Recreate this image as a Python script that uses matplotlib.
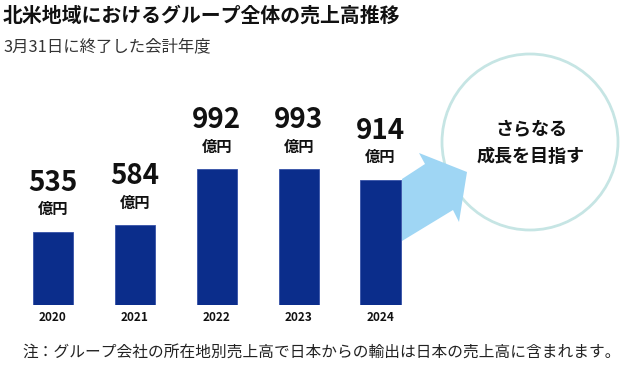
import matplotlib
matplotlib.use("Agg")
import matplotlib.pyplot as plt
from matplotlib.patches import Polygon, Circle

plt.rcParams['font.family'] = ['Noto Sans CJK JP', 'DejaVu Sans']

years = ["2020", "2021", "2022", "2023", "2024"]
sales = [535, 584, 992, 993, 914]
unit_label = "億円"
title = "北米地域におけるグループ全体の売上高推移"
subtitle = "3月31日に終了した会計年度"
note = "注：グループ会社の所在地別売上高で日本からの輸出は日本の売上高に含まれます。"
circle_text = "さらなる\n成長を目指す"

W, H = 625, 366
fig = plt.figure(figsize=(W / 100, H / 100), dpi=100)

# overlay axes in pixel coordinates for decorations
ov = fig.add_axes([0, 0, 1, 1])
ov.set_xlim(0, W)
ov.set_ylim(H, 0)
ov.axis('off')

# bars axes
def px(x): return x / W
def py(y): return 1 - y / H
left, right = 12, 421.5
top, bottom = 60, 305
ax = fig.add_axes([px(left), py(bottom), px(right) - px(left), py(top) - py(bottom)])
ax.set_xlim(-0.5, len(years) - 0.5)
ymax = 992 * (bottom - top) / (305 - 169)
ax.set_ylim(0, ymax)
ax.axis('off')
ax.patch.set_alpha(0)

bar_color = '#0b2d8b'
x = list(range(len(years)))
ax.bar(x, sales, width=0.49, color=bar_color, edgecolor='#3652a8', linewidth=0.6, zorder=3)
for xi, v, yr in zip(x, sales, years):
    ax.annotate(f"{v}", (xi, v), xytext=(0, 35), textcoords='offset points',
                ha='center', va='center', fontsize=20, fontweight='bold', color='#111111')
    ax.annotate(unit_label, (xi, v), xytext=(0, 16), textcoords='offset points',
                ha='center', va='center', fontsize=11, fontweight='bold', color='#111111')
    ax.annotate(yr, (xi, 0), xytext=(0, -9), textcoords='offset points',
                ha='center', va='center', fontsize=8.5, fontweight='bold', color='#111111')

# circle and arrow
circ = Circle((530, 142), 88, facecolor='white', edgecolor='#c6e5e4', linewidth=2, zorder=1)
ov.add_patch(circ)
arrow = Polygon([(402, 179), (425, 164), (419, 153), (467, 172), (459, 222), (453, 210), (402, 241)],
                closed=True, facecolor='#9fd6f4', edgecolor='none', zorder=2)
ov.add_patch(arrow)
ov.text(531, 143, circle_text, ha='center', va='center', fontsize=13, fontweight='bold',
        color='#111111', linespacing=1.5, zorder=4)

# titles
fig.text(px(3), py(15), title, ha='left', va='center', fontsize=14.3, fontweight='bold', color='#111111')
fig.text(px(4), py(47), subtitle, ha='left', va='center', fontsize=11.8, color='#333333')
fig.text(px(621), py(352), note, ha='right', va='center', fontsize=11.3, color='#222222')

fig.savefig("out.png", dpi=100)
